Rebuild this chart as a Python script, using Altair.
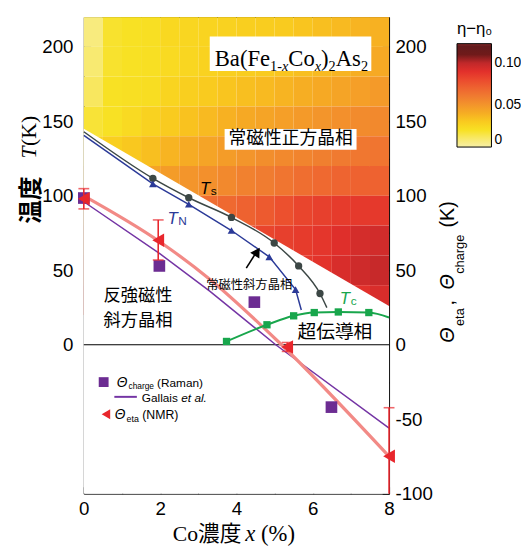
import altair as alt
import pandas as pd

# ---------------- data ----------------
ts_x = [1.81, 2.75, 3.87, 4.99, 5.63, 6.19]
ts_T = [111.7, 98.7, 85.5, 68.3, 52.9, 34.4]
ts_line_x = [0.0] + ts_x + [6.37]
ts_line_T = [143.0] + ts_T + [24.9]

tn_x = [1.81, 2.75, 3.87, 4.86, 5.55]
tn_T = [108.0, 94.3, 76.7, 59.0, 37.0]
tn_line_x = [0.0] + tn_x + [5.70]
tn_line_T = [140.6] + tn_T + [23.3]

tc_x = [3.74, 4.80, 5.50, 6.04, 6.67, 7.47]
tc_T = [2.2, 13.4, 19.4, 21.6, 22.0, 21.6]
tc_line_x = tc_x + [8.0]
tc_line_T = tc_T + [18.3]

raman_x = [0.0, 1.98, 4.47, 6.49]
raman_T = [98.5, 52.9, 28.6, -41.9]

gallais_x = [0.0, 2.0, 3.3, 5.03, 8.0]
gallais_T = [96.0, 61.0, 36.0, 0.0, -56.0]

nmr_fit_x = [0.0, 2.0, 3.3, 5.1, 8.0]
nmr_fit_T = [100.0, 69.0, 44.0, 2.0, -75.0]

nmr_x = [0.0, 1.95, 5.33, 8.0]
nmr_T = [98.0, 70.1, -1.5, -74.9]
nmr_lo = [91.2, 56.9, -4.5, -100.0]
nmr_hi = [104.8, 83.8, 1.5, -42.3]
cap_lo_x = [0.0, 1.95, 5.33]
cap_lo_T = [91.2, 56.9, -4.5]

bound_x = [0.0, 8.0]
bound_T = [145.0, 26.0]

# eta - eta0 map (cell centres)
heat_x = [0.25, 0.75, 1.25, 1.75, 2.25, 2.75, 3.25, 3.75,
          4.25, 4.75, 5.25, 5.75, 6.25, 6.75, 7.25, 7.75]
heat_T = [210, 190, 170, 150, 130, 110, 90, 70, 50, 30]
heat_v = [
    [0.007, 0.019, 0.020, 0.021, 0.024, 0.025, 0.026, 0.027, 0.028, 0.029, 0.030, 0.032, 0.034, 0.036, 0.038, 0.039],
    [0.009, 0.019, 0.020, 0.021, 0.023, 0.025, 0.027, 0.028, 0.029, 0.030, 0.032, 0.034, 0.036, 0.038, 0.040, 0.042],
    [0.012, 0.020, 0.021, 0.022, 0.026, 0.028, 0.030, 0.032, 0.034, 0.036, 0.038, 0.040, 0.042, 0.044, 0.046, 0.048],
    [0.018, 0.020, 0.023, 0.027, 0.030, 0.033, 0.036, 0.039, 0.042, 0.044, 0.046, 0.048, 0.050, 0.052, 0.054, 0.055],
    [0.025, 0.028, 0.031, 0.034, 0.038, 0.041, 0.044, 0.047, 0.050, 0.053, 0.055, 0.057, 0.059, 0.061, 0.062, 0.063],
    [0.035, 0.038, 0.041, 0.044, 0.047, 0.050, 0.052, 0.055, 0.058, 0.060, 0.063, 0.066, 0.068, 0.070, 0.071, 0.071],
    [0.050, 0.053, 0.056, 0.059, 0.062, 0.064, 0.066, 0.068, 0.071, 0.074, 0.078, 0.082, 0.084, 0.086, 0.087, 0.087],
    [0.060, 0.063, 0.066, 0.069, 0.072, 0.074, 0.076, 0.078, 0.080, 0.082, 0.084, 0.086, 0.088, 0.091, 0.094, 0.095],
    [0.070, 0.072, 0.074, 0.076, 0.078, 0.080, 0.082, 0.083, 0.084, 0.085, 0.086, 0.087, 0.089, 0.093, 0.096, 0.098],
    [0.080, 0.080, 0.080, 0.080, 0.080, 0.080, 0.080, 0.080, 0.082, 0.083, 0.084, 0.085, 0.086, 0.088, 0.090, 0.093],
]
heat_stops = [0, 0.01, 0.02, 0.03, 0.04, 0.05, 0.06, 0.07, 0.08, 0.09, 0.10, 0.105, 0.11, 0.117, 0.123]
heat_colors = ['#f7efa8', '#f8e96a', '#f8e124', '#f9cb1f', '#f6ae23', '#f3952b', '#f07c30', '#ee6430',
               '#eb4a2e', '#e2302b', '#c0282a', '#9a2424', '#701a1a', '#3e0e0e', '#8a2a2a']

# ---------------- styles ----------------
NARROW = "Liberation Sans Narrow, Arial Narrow, Liberation Sans"
SANS = "Liberation Sans"
SERIF = "Liberation Serif, Noto Sans CJK JP"
CJK = "Noto Sans CJK JP"
RED = '#e8262c'
PURPLE = '#6c2c92'

xscale = alt.Scale(domain=[0, 8], nice=False, zero=False)
yscale = alt.Scale(domain=[-100, 220], nice=False, zero=False)
xaxis = alt.Axis(values=list(range(0, 9)), labelExpr="datum.value % 2 == 0 ? '' + datum.value : ''",
                 offset=-7, tickSize=7, domain=False, grid=False, title=None, labelPadding=6,
                 labelFlush=False, labelOverlap=False)
yaxis = alt.Axis(values=list(range(-75, 201, 25)),
                 labelExpr="datum.value >= 0 && datum.value % 50 == 0 ? '' + datum.value : ''",
                 offset=-7, tickSize=7, domain=False, grid=False, title=None, labelPadding=11,
                 labelOverlap=False)
yaxis_r = alt.Axis(orient='right', values=list(range(-100, 201, 25)),
                   labelExpr="datum.value % 50 == 0 ? '' + datum.value : ''",
                   offset=-7, tickSize=7, domain=False, grid=False, title=None, labelPadding=6,
                   labelOverlap=False)


def X(f):
    return alt.X(f, type='quantitative', scale=xscale, axis=xaxis)


def Y(f):
    return alt.Y(f, type='quantitative', scale=yscale, axis=yaxis)


def df_xy(xs, ts):
    return pd.DataFrame({'x': xs, 'T': ts})


def txt(x, T, s, size, color='black', font=SANS, style='normal', weight='normal',
        align='left', baseline='alphabetic', angle=0, dx=0, dy=0):
    return alt.Chart(pd.DataFrame({'x': [x], 'T': [T], 's': [s]})).mark_text(
        fontSize=size, color=color, font=font, fontStyle=style, fontWeight=weight,
        align=align, baseline=baseline, angle=angle, dx=dx, dy=dy
    ).encode(x=X('x'), y=Y('T'), text='s:N')


# ---------------- layers ----------------
rows = []
for i, tt in enumerate(heat_T):
    for j, xx in enumerate(heat_x):
        rows.append({'x0': xx - 0.25, 'x1': xx + 0.25, 't0': tt - 10, 't1': tt + 10, 'v': heat_v[i][j]})
heat_df = pd.DataFrame(rows)
cscale = alt.Scale(domain=heat_stops, range=heat_colors)
legend = alt.Legend(type='gradient', orient='none', legendX=379, legendY=4, direction='vertical',
                    gradientLength=105, gradientThickness=35, title='η−η₀', titleFont=SANS,
                    titleFontSize=17, titleFontWeight='normal', titleColor='black', titlePadding=6,
                    titleAnchor='start', labelFont=NARROW, labelFontSize=14, labelColor='black',
                    values=[0, 0.05, 0.1],
                    labelExpr="datum.value == 0 ? '0' : format(datum.value, '.2f')",
                    gradientStrokeColor='black', gradientStrokeWidth=1, labelOverlap=False,
                    labelOffset=3)
heat = alt.Chart(heat_df).mark_rect().encode(
    x=X('x0'), x2=alt.X2('x1'), y=Y('t0'), y2=alt.Y2('t1'),
    color=alt.Color('v:Q', scale=cscale, legend=legend))

wedge_df = pd.DataFrame({'x': bound_x, 'T': bound_T, 'lo': [-100, -100]})
wedge = alt.Chart(wedge_df).mark_area(color='white', opacity=1).encode(
    x=X('x'), y=Y('T'), y2=alt.Y2('lo'))

zero = alt.Chart(pd.DataFrame({'T': [0]})).mark_rule(color='black', strokeWidth=1.2).encode(y=Y('T'))

gallais = alt.Chart(df_xy(gallais_x, gallais_T)).mark_line(color='#7434a4', strokeWidth=1.5).encode(
    x=X('x'), y=Y('T'))
nmrfit = alt.Chart(df_xy(nmr_fit_x, nmr_fit_T)).mark_line(
    color='#f28a86', strokeWidth=3.2, interpolate='monotone').encode(x=X('x'), y=Y('T'))

ts_line = alt.Chart(df_xy(ts_line_x, ts_line_T)).mark_line(
    color='#3c4745', strokeWidth=1.5, interpolate='monotone').encode(x=X('x'), y=Y('T'))
ts_pts = alt.Chart(df_xy(ts_x, ts_T)).mark_circle(color='#3c4745', size=55, opacity=1).encode(
    x=X('x'), y=Y('T'))
tn_line = alt.Chart(df_xy(tn_line_x, tn_line_T)).mark_line(
    color='#2b3a98', strokeWidth=1.5).encode(x=X('x'), y=Y('T'))
tn_pts = alt.Chart(df_xy(tn_x, tn_T)).mark_point(
    shape='triangle-up', filled=True, color='#2b3a98', size=60, opacity=1).encode(x=X('x'), y=Y('T'))
tc_line = alt.Chart(df_xy(tc_line_x, tc_line_T)).mark_line(
    color='#18a64c', strokeWidth=2, interpolate='monotone').encode(x=X('x'), y=Y('T'))
tc_pts = alt.Chart(df_xy(tc_x, tc_T)).mark_square(color='#18a64c', size=55, opacity=1).encode(
    x=X('x'), y=Y('T'))

raman = alt.Chart(df_xy(raman_x, raman_T)).mark_square(color=PURPLE, size=140, opacity=1).encode(
    x=X('x'), y=Y('T'))

nmr_df = pd.DataFrame({'x': nmr_x, 'T': nmr_T, 'lo': nmr_lo, 'hi': nmr_hi})
nmr_err = alt.Chart(nmr_df).mark_rule(color=RED, strokeWidth=1.6).encode(
    x=X('x'), y=Y('lo'), y2=alt.Y2('hi'))
nmr_cap_hi = alt.Chart(nmr_df).mark_tick(orient='horizontal', size=11, thickness=1.6, color=RED).encode(
    x=X('x'), y=Y('hi'))
nmr_cap_lo = alt.Chart(df_xy(cap_lo_x, cap_lo_T)).mark_tick(
    orient='horizontal', size=11, thickness=1.6, color=RED).encode(x=X('x'), y=Y('T'))
nmr_pts = alt.Chart(nmr_df).mark_point(shape='triangle-left', filled=True, color=RED, size=190,
                                       opacity=1).encode(x=X('x'), y=Y('T'))

arrow_df = pd.DataFrame({'x': [4.258], 'T': [51.4], 'x2': [4.55], 'T2': [63.3]})
arrow_line = alt.Chart(arrow_df).mark_rule(color='black', strokeWidth=1.6).encode(
    x=X('x'), y=Y('T'), x2=alt.X2('x2'), y2=alt.Y2('T2'))
arrow_head = alt.Chart(pd.DataFrame({'x': [4.545], 'T': [62.5]})).mark_point(
    shape='triangle-up', filled=True, color='black', size=120, angle=32, opacity=1).encode(
    x=X('x'), y=Y('T'))

box_df = pd.DataFrame({'x': [3.30, 3.69], 'x2': [7.535, 7.148], 'T': [206.9, 144.8], 'T2': [183.8, 130.9]})
boxes = alt.Chart(box_df).mark_rect(color='white', opacity=1).encode(
    x=X('x'), x2=alt.X2('x2'), y=Y('T'), y2=alt.Y2('T2'))

# formula Ba(Fe1-xCox)2As2
fx, fT = 3.432, 187.1
formula = [
    txt(fx, fT, 'Ba(Fe', 23, font=SERIF),
    txt(fx, fT, '1-', 14.5, font=SERIF, dx=56.2, dy=5),
    txt(fx, fT, 'x', 14.5, font=SERIF, style='italic', dx=68.3, dy=5),
    txt(fx, fT, 'Co', 23, font=SERIF, dx=74.7),
    txt(fx, fT, 'x', 14.5, font=SERIF, style='italic', dx=101.5, dy=5),
    txt(fx, fT, ')', 23, font=SERIF, dx=107.9),
    txt(fx, fT, '2', 14.5, font=SERIF, dx=115.6, dy=5),
    txt(fx, fT, 'As', 23, font=SERIF, dx=122.8),
    txt(fx, fT, '2', 14.5, font=SERIF, dx=148.4, dy=5),
]

labels = [
    txt(5.419, 137.9, '常磁性正方晶相', 18, font=CJK, align='center', baseline='middle'),
    txt(3.045, 101.2, 'T', 17, font=SANS, style='italic'),
    txt(3.045, 101.2, 's', 12, font=SANS, dx=11, dy=1),
    txt(2.194, 81.3, 'T', 17, font=SANS, style='italic', color='#2b3a98'),
    txt(2.194, 81.3, 'N', 12, font=SANS, color='#2b3a98', dx=11, dy=1),
    txt(6.71, 27.1, 'T', 17, font=SANS, style='italic', color='#18a64c'),
    txt(6.71, 27.1, 'c', 12, font=SANS, color='#18a64c', dx=11, dy=1),
    txt(4.335, 40.3, '常磁性斜方晶相', 12.5, font=CJK, align='center', baseline='middle'),
    txt(1.419, 33.0, '反強磁性', 17.5, font=CJK, align='center', baseline='middle'),
    txt(1.419, 16.2, '斜方晶相', 17.5, font=CJK, align='center', baseline='middle'),
    txt(6.581, 8.6, '超伝導相', 19, font=CJK, align='center', baseline='middle'),
]

# legend block (lower left)
leg_sq = alt.Chart(df_xy([0.52], [-25.1])).mark_square(color=PURPLE, size=100, opacity=1).encode(
    x=X('x'), y=Y('T'))
leg_line = alt.Chart(pd.DataFrame({'x': [0.80], 'x2': [1.39], 'T': [-35.0]})).mark_rule(
    color='#7434a4', strokeWidth=2).encode(x=X('x'), x2=alt.X2('x2'), y=Y('T'))
leg_tri = alt.Chart(df_xy([0.58], [-46.7])).mark_point(shape='triangle-left', filled=True, color=RED,
                                                       size=100, opacity=1).encode(x=X('x'), y=Y('T'))
legend_txt = [
    txt(0.86, -28.4, 'Θ', 14, style='italic'),
    txt(0.86, -28.4, 'charge', 8.5, dx=12, dy=2),
    txt(1.92, -28.4, '(Raman)', 12),
    txt(1.52, -38.3, 'Gallais', 12),
    txt(2.555, -38.3, 'et al.', 12, style='italic'),
    txt(0.81, -50.2, 'Θ', 14, style='italic'),
    txt(0.81, -50.2, 'eta', 9, dx=12, dy=3),
    txt(1.53, -50.2, '(NMR)', 12.5),
]

# axis titles
titles = [
    txt(-1.18, 81.3, '温度', 24, font=CJK, weight='bold', angle=270),
    txt(-1.25, 125.0, 'T', 22, font=SERIF, style='italic', angle=270),
    txt(-1.25, 133.5, '(K)', 22, font=SERIF, angle=270),
    txt(9.703, 1.32, 'Θ', 20, style='italic', angle=270),
    txt(9.961, 12.56, 'eta', 13, angle=270),
    txt(9.703, 26.4, ',', 20, angle=270),
    txt(9.703, 37.0, 'Θ', 20, style='italic', angle=270),
    txt(9.961, 47.6, 'charge', 13, angle=270),
    txt(9.703, 78.7, '(K)', 20, angle=270),
    txt(4.129, -131.6, 'Co濃度', 22, font=SERIF, align='right'),
    txt(4.232, -131.6, 'x', 23, font=SERIF, style='italic'),
    txt(4.645, -131.6, '(%)', 23, font=SERIF),
]

layers = [heat, wedge, zero, gallais, nmrfit, ts_line, ts_pts, tn_line, tn_pts, tc_line, tc_pts,
          raman, nmr_err, nmr_cap_hi, nmr_cap_lo, nmr_pts, arrow_line, arrow_head, boxes] \
    + formula + labels + [leg_sq, leg_line, leg_tri] + legend_txt + titles

inner = alt.layer(*layers)
right = alt.Chart(pd.DataFrame({'x': [0, 0], 'T': [-100, 220]})).mark_point(opacity=0).encode(
    x=X('x'), y=alt.Y('T', type='quantitative', scale=yscale, axis=yaxis_r))

chart = alt.layer(inner, right).resolve_scale(y='independent').properties(
    width=310, height=484,
    autosize=alt.AutoSizeParams(type='none'),
    padding={'left': 77, 'top': 5, 'right': 134, 'bottom': 53},
).configure_view(stroke='black', strokeWidth=1).configure_axis(
    labelFont=NARROW, labelFontSize=19, labelColor='black', tickColor='black', tickWidth=1)

chart.save("out.html", embed_options={"renderer": "svg", "actions": False})
